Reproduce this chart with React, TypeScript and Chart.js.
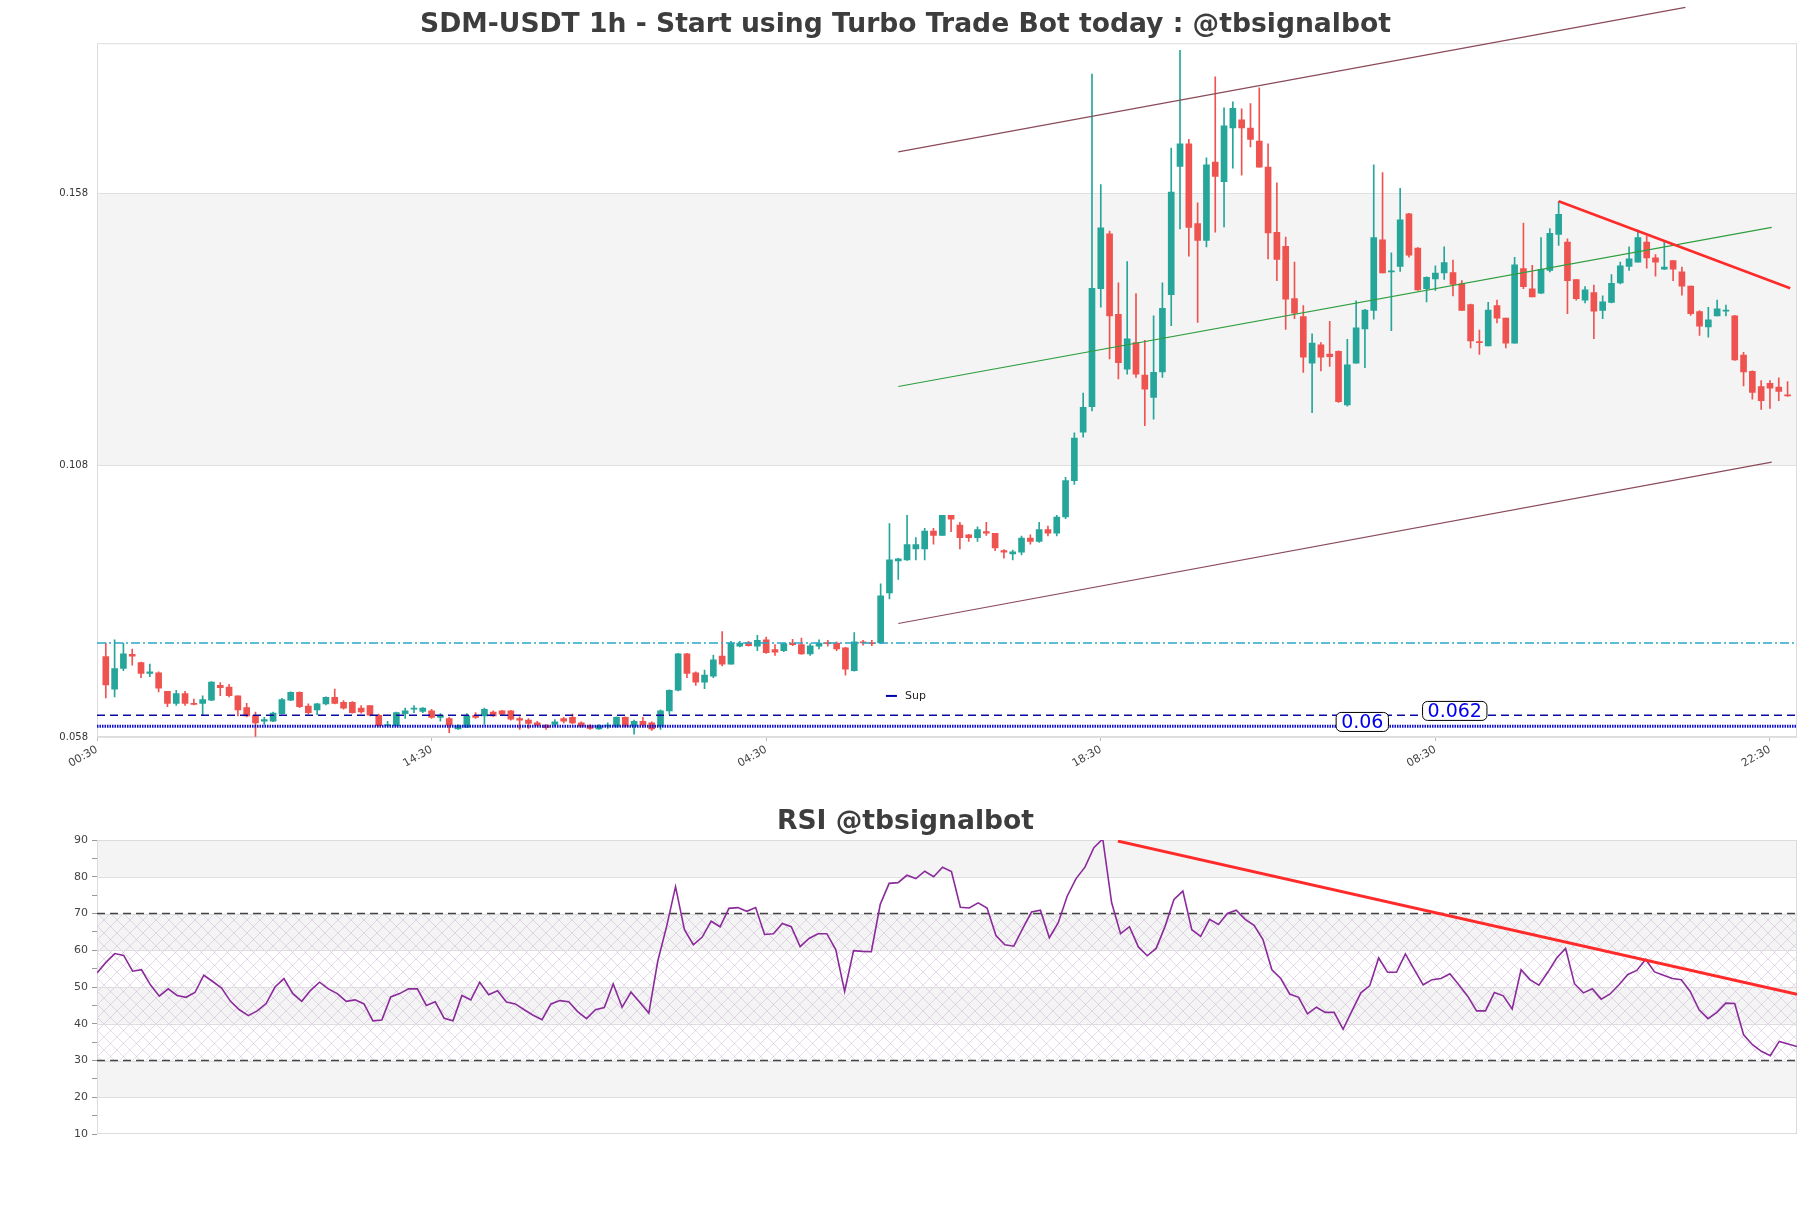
import React, { useEffect, useRef } from "react";
import { Chart, registerables } from "chart.js";
Chart.register(...registerables);

// ---------- data ----------
const timeLabels = ["00:30", "14:30", "04:30", "18:30", "08:30", "22:30"];
const timeTickIdx = [-1, 37, 75, 113, 151, 189];
const priceTicks = [0.058, 0.108, 0.158];

const opens = [
  0.0728, 0.0668, 0.0706, 0.0732, 0.0717, 0.0697, 0.0698, 0.0664, 0.0642, 0.0660,
  0.0641, 0.0642, 0.0648, 0.0675, 0.0672, 0.0656, 0.0634, 0.0620, 0.0609, 0.0609,
  0.0623, 0.0648, 0.0662, 0.0637, 0.0630, 0.0641, 0.0653, 0.0644, 0.0644, 0.0633,
  0.0638, 0.0620, 0.0601, 0.0601, 0.0623, 0.0631, 0.0627, 0.0628, 0.0616, 0.0614,
  0.0595, 0.0598, 0.0620, 0.0619, 0.0626, 0.0628, 0.0628, 0.0614, 0.0611, 0.0606,
  0.0602, 0.0603, 0.0614, 0.0616, 0.0606, 0.0601, 0.0595, 0.0600, 0.0600, 0.0616,
  0.0600, 0.0609, 0.0606, 0.0600, 0.0628, 0.0666, 0.0733, 0.0698, 0.0681, 0.0692,
  0.0729, 0.0714, 0.0747, 0.0754, 0.0747, 0.0759, 0.0741, 0.0739, 0.0753, 0.0750,
  0.0733, 0.0747, 0.0753, 0.0753, 0.0744, 0.0702, 0.0755, 0.0754, 0.0753, 0.0845,
  0.0904, 0.0906, 0.0926, 0.0926, 0.0959, 0.0951, 0.0988, 0.0970, 0.0952, 0.0947,
  0.0958, 0.0955, 0.0923, 0.0917, 0.0920, 0.0946, 0.0940, 0.0962, 0.0955, 0.0985,
  0.1052, 0.1141, 0.1188, 0.1405, 0.1506, 0.1358, 0.1257, 0.1306, 0.1246, 0.1205,
  0.1252, 0.1394, 0.1630, 0.1672, 0.1525, 0.1494, 0.1638, 0.1602, 0.1701, 0.1716,
  0.1701, 0.1677, 0.1629, 0.1509, 0.1483, 0.1387, 0.1354, 0.1268, 0.1302, 0.1285,
  0.1290, 0.1191, 0.1268, 0.1331, 0.1365, 0.1495, 0.1436, 0.1446, 0.1543, 0.1480,
  0.1405, 0.1423, 0.1434, 0.1435, 0.1414, 0.1376, 0.1308, 0.1300, 0.1374, 0.1351,
  0.1305, 0.1442, 0.1405, 0.1397, 0.1439, 0.1505, 0.1491, 0.1422, 0.1384, 0.1398,
  0.1365, 0.1380, 0.1416, 0.1446, 0.1454, 0.1491, 0.1462, 0.1441, 0.1457, 0.1436,
  0.1410, 0.1363, 0.1335, 0.1355, 0.1364, 0.1355, 0.1283, 0.1253, 0.1225, 0.1231,
  0.1224, 0.1210,
];
const highs = [
  0.0753, 0.0759, 0.0753, 0.0742, 0.0718, 0.0714, 0.0700, 0.0664, 0.0666, 0.0664,
  0.0650, 0.0656, 0.0682, 0.0680, 0.0677, 0.0656, 0.0642, 0.0626, 0.0616, 0.0626,
  0.0651, 0.0663, 0.0663, 0.0641, 0.0642, 0.0654, 0.0668, 0.0647, 0.0645, 0.0638,
  0.0638, 0.0622, 0.0609, 0.0626, 0.0633, 0.0638, 0.0634, 0.0631, 0.0623, 0.0616,
  0.0603, 0.0623, 0.0625, 0.0633, 0.0628, 0.0629, 0.0629, 0.0617, 0.0614, 0.0609,
  0.0603, 0.0612, 0.0616, 0.0622, 0.0608, 0.0603, 0.0603, 0.0606, 0.0617, 0.0617,
  0.0611, 0.0616, 0.0608, 0.0630, 0.0667, 0.0734, 0.0734, 0.0700, 0.0703, 0.0731,
  0.0774, 0.0756, 0.0756, 0.0756, 0.0767, 0.0764, 0.0750, 0.0753, 0.0760, 0.0762,
  0.0752, 0.0759, 0.0758, 0.0755, 0.0745, 0.0772, 0.0758, 0.0758, 0.0862, 0.0973,
  0.0909, 0.0988, 0.0947, 0.0964, 0.0964, 0.0988, 0.0988, 0.0975, 0.0953, 0.0967,
  0.0975, 0.0955, 0.0925, 0.0924, 0.0950, 0.0952, 0.0975, 0.0968, 0.0988, 0.1058,
  0.1140, 0.1213, 0.1800, 0.1597, 0.1511, 0.1416, 0.1455, 0.1396, 0.1310, 0.1355,
  0.1416, 0.1664, 0.1844, 0.1680, 0.1563, 0.1646, 0.1795, 0.1738, 0.1749, 0.1736,
  0.1746, 0.1775, 0.1672, 0.1600, 0.1500, 0.1454, 0.1374, 0.1322, 0.1306, 0.1345,
  0.1291, 0.1312, 0.1383, 0.1367, 0.1633, 0.1619, 0.1471, 0.1590, 0.1544, 0.1481,
  0.1427, 0.1447, 0.1482, 0.1458, 0.1420, 0.1377, 0.1329, 0.1380, 0.1384, 0.1351,
  0.1463, 0.1526, 0.1448, 0.1499, 0.1516, 0.1566, 0.1497, 0.1422, 0.1409, 0.1412,
  0.1392, 0.1431, 0.1454, 0.1482, 0.1513, 0.1502, 0.1468, 0.1491, 0.1457, 0.1445,
  0.1410, 0.1365, 0.1371, 0.1384, 0.1375, 0.1356, 0.1288, 0.1254, 0.1236, 0.1236,
  0.1241, 0.1234,
];
const lows = [
  0.0652, 0.0654, 0.0702, 0.0712, 0.0689, 0.0691, 0.0663, 0.0636, 0.0638, 0.0638,
  0.0639, 0.0620, 0.0647, 0.0656, 0.0654, 0.0619, 0.0617, 0.0581, 0.0603, 0.0608,
  0.0622, 0.0647, 0.0634, 0.0622, 0.0621, 0.0639, 0.0641, 0.0631, 0.0624, 0.0624,
  0.0619, 0.0600, 0.0600, 0.0600, 0.0614, 0.0625, 0.0625, 0.0614, 0.0609, 0.0588,
  0.0594, 0.0597, 0.0614, 0.0603, 0.0618, 0.0620, 0.0611, 0.0594, 0.0596, 0.0600,
  0.0594, 0.0600, 0.0606, 0.0604, 0.0598, 0.0594, 0.0594, 0.0596, 0.0598, 0.0598,
  0.0585, 0.0598, 0.0592, 0.0594, 0.0622, 0.0665, 0.0689, 0.0675, 0.0669, 0.0689,
  0.0711, 0.0714, 0.0746, 0.0747, 0.0739, 0.0734, 0.0730, 0.0737, 0.0748, 0.0732,
  0.0730, 0.0742, 0.0747, 0.0739, 0.0694, 0.0701, 0.0749, 0.0748, 0.0752, 0.0834,
  0.0870, 0.0905, 0.0906, 0.0906, 0.0935, 0.0951, 0.0958, 0.0926, 0.0940, 0.0940,
  0.0951, 0.0923, 0.0909, 0.0906, 0.0915, 0.0935, 0.0938, 0.0950, 0.0950, 0.0982,
  0.1045, 0.1132, 0.1180, 0.1371, 0.1276, 0.1239, 0.1248, 0.1242, 0.1153, 0.1165,
  0.1242, 0.1337, 0.1515, 0.1465, 0.1343, 0.1482, 0.1509, 0.1519, 0.1627, 0.1614,
  0.1666, 0.1629, 0.1460, 0.1420, 0.1330, 0.1350, 0.1251, 0.1177, 0.1254, 0.1262,
  0.1196, 0.1189, 0.1268, 0.1260, 0.1349, 0.1434, 0.1328, 0.1437, 0.1463, 0.1402,
  0.1381, 0.1402, 0.1422, 0.1392, 0.1365, 0.1296, 0.1284, 0.1300, 0.1342, 0.1296,
  0.1305, 0.1405, 0.1390, 0.1396, 0.1436, 0.1485, 0.1359, 0.1384, 0.1379, 0.1313,
  0.1350, 0.1379, 0.1414, 0.1439, 0.1454, 0.1443, 0.1428, 0.1440, 0.1420, 0.1393,
  0.1356, 0.1319, 0.1316, 0.1355, 0.1355, 0.1273, 0.1226, 0.1202, 0.1183, 0.1185,
  0.1199, 0.1207,
];
const closes = [
  0.0676, 0.0706, 0.0733, 0.0729, 0.0697, 0.0700, 0.0670, 0.0642, 0.0660, 0.0642,
  0.0640, 0.0649, 0.0681, 0.0671, 0.0656, 0.0630, 0.0619, 0.0606, 0.0612, 0.0624,
  0.0649, 0.0662, 0.0636, 0.0625, 0.0641, 0.0653, 0.0642, 0.0633, 0.0625, 0.0626,
  0.0620, 0.0601, 0.0603, 0.0625, 0.0628, 0.0633, 0.0633, 0.0616, 0.0620, 0.0602,
  0.0601, 0.0619, 0.0616, 0.0631, 0.0619, 0.0622, 0.0613, 0.0611, 0.0605, 0.0602,
  0.0597, 0.0608, 0.0609, 0.0606, 0.0600, 0.0596, 0.0601, 0.0602, 0.0616, 0.0600,
  0.0609, 0.0602, 0.0595, 0.0628, 0.0666, 0.0733, 0.0697, 0.0681, 0.0694, 0.0722,
  0.0714, 0.0753, 0.0753, 0.0748, 0.0758, 0.0735, 0.0736, 0.0752, 0.0750, 0.0733,
  0.0748, 0.0753, 0.0752, 0.0742, 0.0705, 0.0755, 0.0753, 0.0752, 0.0840, 0.0906,
  0.0908, 0.0934, 0.0934, 0.0959, 0.0951, 0.0988, 0.0981, 0.0947, 0.0947, 0.0962,
  0.0955, 0.0928, 0.0920, 0.0921, 0.0946, 0.0940, 0.0962, 0.0955, 0.0985, 0.1052,
  0.1130, 0.1187, 0.1406, 0.1517, 0.1355, 0.1269, 0.1313, 0.1248, 0.1220, 0.1251,
  0.1369, 0.1583, 0.1672, 0.1518, 0.1494, 0.1633, 0.1612, 0.1705, 0.1737, 0.1701,
  0.1680, 0.1629, 0.1508, 0.1459, 0.1386, 0.1360, 0.1279, 0.1305, 0.1279, 0.1280,
  0.1197, 0.1265, 0.1333, 0.1366, 0.1499, 0.1434, 0.1438, 0.1532, 0.1467, 0.1403,
  0.1426, 0.1434, 0.1453, 0.1413, 0.1365, 0.1309, 0.1306, 0.1366, 0.1351, 0.1305,
  0.1449, 0.1409, 0.1390, 0.1441, 0.1507, 0.1542, 0.1420, 0.1387, 0.1403, 0.1364,
  0.1381, 0.1415, 0.1447, 0.1460, 0.1499, 0.1462, 0.1454, 0.1445, 0.1441, 0.1410,
  0.1359, 0.1336, 0.1348, 0.1368, 0.1366, 0.1274, 0.1252, 0.1214, 0.1199, 0.1222,
  0.1216, 0.1208,
];

const rsiValues = [
  53.8, 56.7, 59.1, 58.6, 54.3, 54.7, 50.6, 47.5, 49.5, 47.7,
  47.2, 48.5, 53.2, 51.5, 49.7, 46.1, 43.8, 42.2, 43.5, 45.5,
  50.0, 52.3, 48.2, 46.1, 49.1, 51.3, 49.5, 48.2, 46.1, 46.5,
  45.4, 40.8, 41.0, 47.3, 48.2, 49.5, 49.5, 45.0, 46.0, 41.5,
  40.8, 47.7, 46.5, 51.3, 47.9, 49.0, 45.9, 45.4, 43.8, 42.3,
  41.1, 45.4, 46.3, 46.0, 43.3, 41.4, 43.8, 44.4, 50.8, 44.5,
  48.6, 45.8, 42.9, 57.0, 66.5, 77.3, 65.6, 61.5, 63.6, 67.9,
  66.4, 71.4, 71.6, 70.6, 71.6, 64.3, 64.5, 67.3, 66.4, 61.0,
  63.2, 64.5, 64.5, 60.2, 48.8, 59.9, 59.7, 59.6, 72.5, 78.2,
  78.4, 80.4, 79.5, 81.5, 80.0, 82.6, 81.4, 71.7, 71.5, 72.9,
  71.5, 64.0, 61.5, 61.1, 65.9, 70.4, 70.9, 63.4, 67.5, 74.7,
  79.5, 82.6, 87.9, 90.3, 72.9, 64.5, 66.4, 60.9, 58.5, 60.5,
  66.5, 73.8, 76.1, 65.6, 63.8, 68.4, 67.0, 70.0, 70.9, 68.4,
  66.8, 62.9, 54.7, 52.3, 48.1, 47.2, 42.7, 44.5, 43.1, 43.1,
  38.5, 43.5, 48.4, 50.4, 57.9, 54.0, 54.0, 59.0, 54.7, 50.6,
  52.0, 52.3, 53.6, 50.6, 47.5, 43.5, 43.5, 48.5, 47.6, 44.0,
  54.7, 52.0, 50.5, 54.0, 57.9, 60.5, 50.9, 48.4, 49.5, 46.7,
  48.1, 50.6, 53.4, 54.5, 57.5, 54.1, 53.2, 52.3, 52.0, 48.8,
  43.8, 41.4, 43.1, 45.6, 45.5, 37.0, 34.3, 32.5, 31.3, 35.2,
  34.5, 33.8,
];

// overlay lines as [index, value] endpoints
const resistanceLevel = 0.0753;
const supportDashed = 0.062;
const supportDotted = 0.06;
const upperChannel = [[90, 0.1657], [179.4, 0.1923]];
const lowerChannel = [[90, 0.0789], [189.2, 0.1086]];
const midChannel = [[90, 0.1225], [189.2, 0.1518]];
const priceTrend = [[165, 0.1566], [191.3, 0.1406]];
const rsiTrend = [[114.7, 89.7], [191, 48.0]];
const rsiLevels = [70, 30];
const priceTags = [
  { x: 142.7, y: 0.06077, text: "0.06" },
  { x: 153.2, y: 0.0628, text: "0.062" },
];
const priceTitle = "SDM-USDT 1h - Start using Turbo Trade Bot today : @tbsignalbot";
const rsiTitle = "RSI @tbsignalbot";

// ---------- style ----------
const GREEN = "#26a69a";
const RED = "#ef5350";
const FONT = "DejaVu Sans";
const W = 1811;

Chart.defaults.font.family = FONT;
Chart.defaults.color = "#444";

const toXY = (pts: number[][]) => pts.map(([x, y]) => ({ x, y }));

// title centred on the whole figure width
const makeTitlePlugin = (text: string, cy: number) => ({
  id: "figTitle",
  afterDraw(chart: any) {
    const { ctx } = chart;
    ctx.save();
    ctx.font = `bold 26.6px "${FONT}"`;
    ctx.fillStyle = "#3d3d3d";
    ctx.textAlign = "center";
    ctx.textBaseline = "middle";
    ctx.fillText(text, chart.width / 2, cy);
    ctx.restore();
  },
});

function PriceChart() {
  const ref = useRef<HTMLCanvasElement>(null);
  useEffect(() => {
    const colors = closes.map((c, i) => (c >= opens[i] ? GREEN : RED));
    const xMin = -1, xMax = 192.07;
    const bgPlugin = {
      id: "priceBg",
      beforeDraw(chart: any) {
        const { ctx, chartArea: a, scales } = chart;
        const y = scales.y;
        ctx.save();
        ctx.fillStyle = "#f4f4f4";
        const y1 = y.getPixelForValue(priceTicks[2]);
        const y2 = y.getPixelForValue(priceTicks[1]);
        ctx.fillRect(a.left, y1, a.right - a.left, y2 - y1);
        ctx.restore();
      },
      beforeDatasetsDraw(chart: any) {
        const { ctx, chartArea: a } = chart;
        ctx.save();
        ctx.strokeStyle = "#dcdcdc";
        ctx.lineWidth = 1;
        ctx.strokeRect(a.left + 0.5, a.top + 0.5, a.right - a.left - 1, a.bottom - a.top - 1);
        ctx.restore();
      },
      afterDatasetsDraw(chart: any) {
        const { ctx, scales } = chart;
        const xs = scales.x, ys = scales.y;
        ctx.save();
        // legend entry "Sup"
        const ly = ys.getPixelForValue(0.06556);
        const lx = xs.getPixelForValue(88.6);
        ctx.strokeStyle = "#0000aa";
        ctx.lineWidth = 2;
        ctx.beginPath();
        ctx.moveTo(lx, ly);
        ctx.lineTo(lx + 11, ly);
        ctx.stroke();
        ctx.fillStyle = "#222";
        ctx.font = `11px "${FONT}"`;
        ctx.textBaseline = "middle";
        ctx.textAlign = "left";
        ctx.fillText("Sup", lx + 19, ly);
        // price tags
        ctx.font = `19px "${FONT}"`;
        for (const t of priceTags) {
          const cx = xs.getPixelForValue(t.x);
          const cy = ys.getPixelForValue(t.y);
          const w = ctx.measureText(t.text).width + 10;
          const h = 19;
          const x0 = cx - w / 2, y0 = cy - h / 2;
          ctx.beginPath();
          (ctx as any).roundRect(x0, y0, w, h, 5);
          ctx.fillStyle = "#ffffff";
          ctx.fill();
          ctx.strokeStyle = "#000";
          ctx.lineWidth = 1;
          ctx.stroke();
          ctx.fillStyle = "#0000ee";
          ctx.textAlign = "center";
          ctx.textBaseline = "middle";
          ctx.fillText(t.text, cx, cy + 1);
        }
        ctx.restore();
      },
    };
    const lineDs = (pts: number[][], color: string, width: number, dash: number[] = [], order = 2, clip: any = undefined) => ({
      type: "line" as const,
      data: toXY(pts),
      borderColor: color,
      borderWidth: width,
      borderDash: dash,
      pointRadius: 0,
      fill: false,
      tension: 0,
      order,
      ...(clip !== undefined ? { clip } : {}),
    });
    const chart = new Chart(ref.current!, {
      type: "bar",
      data: {
        datasets: [
          {
            type: "bar",
            data: lows.map((l, i) => ({ x: i, y: [l, highs[i]] })) as any,
            backgroundColor: colors,
            barThickness: 1,
            maxBarThickness: 1,
            grouped: false,
            order: 20,
          } as any,
          {
            type: "bar",
            data: opens.map((o, i) => ({ x: i, y: [o, closes[i]] })) as any,
            backgroundColor: colors,
            barThickness: 6,
            maxBarThickness: 6,
            minBarLength: 1,
            grouped: false,
            order: 19,
          } as any,
          lineDs([[xMin, resistanceLevel], [xMax, resistanceLevel]], "#2aa6c8", 1.3, [9, 3, 2, 3], 5),
          lineDs([[xMin, supportDashed], [xMax, supportDashed]], "#0a0a9e", 1.5, [8, 5], 4),
          lineDs([[xMin, supportDotted], [xMax, supportDotted]], "#1010cc", 3, [1.5, 1], 4),
          lineDs(upperChannel, "#8a4a5a", 1.1, [], 3, false),
          lineDs(lowerChannel, "#8a4a5a", 1.1, [], 3),
          lineDs(midChannel, "#2e9e3e", 1.1, [], 3),
          lineDs(priceTrend, "#ff2a2a", 2.6, [], 1),
        ] as any,
      },
      options: {
        responsive: false,
        animation: false,
        events: [],
        layout: { padding: { left: 0, right: 14, top: 43.2, bottom: 0 } },
        plugins: {
          legend: { display: false },
          tooltip: { enabled: false },
          title: { display: false },
        },
        scales: {
          x: {
            type: "linear",
            min: xMin,
            max: xMax,
            offset: false,
            afterBuildTicks: (s: any) => {
              s.ticks = timeTickIdx.map((v) => ({ value: v }));
            },
            afterFit: (s: any) => {
              s.height = 63;
            },
            ticks: {
              autoSkip: false,
              maxRotation: 30,
              minRotation: 30,
              padding: 2,
              font: { size: 11 },
              color: "#444",
              callback: (_v: any, i: number) => timeLabels[i],
            },
            grid: { drawOnChartArea: false, drawTicks: true, tickLength: 4, color: "#bbb", offset: false },
            border: { display: false },
          },
          y: {
            type: "linear",
            min: priceTicks[0],
            max: 0.1857,
            beginAtZero: false,
            afterBuildTicks: (s: any) => {
              s.ticks = priceTicks.map((v) => ({ value: v }));
            },
            afterFit: (s: any) => {
              s.width = 97;
            },
            ticks: {
              padding: 9,
              font: { size: 10 },
              color: "#333",
              callback: (v: any) => Number(v).toFixed(3),
            },
            grid: { color: "#e0e0e0", drawTicks: false },
            border: { display: false },
          },
        },
      } as any,
      plugins: [bgPlugin, makeTitlePlugin(priceTitle, 25)],
    });
    return () => chart.destroy();
  }, []);
  return <canvas ref={ref} width={W} height={800} style={{ display: "block" }} />;
}

function RsiChart() {
  const ref = useRef<HTMLCanvasElement>(null);
  useEffect(() => {
    const grayBands = [[80, 90], [60, 70], [40, 50], [20, 30]];
    const hatchBand = [30, 70];
    const bandLines = [20, 30, 40, 50, 60, 70, 80];
    const tile = document.createElement("canvas");
    tile.width = 13;
    tile.height = 13;
    const tg = tile.getContext("2d")!;
    tg.strokeStyle = "rgba(185,155,200,0.45)";
    tg.lineWidth = 0.8;
    tg.beginPath();
    tg.moveTo(0, 0);
    tg.lineTo(13, 13);
    tg.moveTo(13, 0);
    tg.lineTo(0, 13);
    tg.stroke();
    const bgPlugin = {
      id: "rsiBg",
      beforeDraw(chart: any) {
        const { ctx, chartArea: a, scales } = chart;
        const y = scales.y;
        ctx.save();
        ctx.fillStyle = "#f4f4f4";
        for (const [lo, hi] of grayBands) {
          const y1 = y.getPixelForValue(hi), y2 = y.getPixelForValue(lo);
          ctx.fillRect(a.left, y1, a.right - a.left, y2 - y1);
        }
        const pat = ctx.createPattern(tile, "repeat");
        if (pat) {
          ctx.fillStyle = pat;
          const y1 = y.getPixelForValue(hatchBand[1]), y2 = y.getPixelForValue(hatchBand[0]);
          ctx.fillRect(a.left, y1, a.right - a.left, y2 - y1);
        }
        ctx.strokeStyle = "#dedede";
        ctx.lineWidth = 1;
        for (const v of bandLines) {
          const py = Math.round(y.getPixelForValue(v)) + 0.5;
          ctx.beginPath();
          ctx.moveTo(a.left, py);
          ctx.lineTo(a.right, py);
          ctx.stroke();
        }
        ctx.strokeStyle = "#dcdcdc";
        ctx.strokeRect(a.left + 0.5, a.top + 0.5, a.right - a.left - 1, a.bottom - a.top - 1);
        ctx.restore();
      },
    };
    const n = rsiValues.length;
    const chart = new Chart(ref.current!, {
      type: "line",
      data: {
        datasets: [
          ...rsiLevels.map((lv) => ({
            data: [{ x: 0, y: lv }, { x: n - 1, y: lv }],
            borderColor: "#444",
            borderWidth: 1.3,
            borderDash: [8, 5],
            pointRadius: 0,
            order: 3,
          })),
          {
            data: rsiValues.map((v, i) => ({ x: i, y: v })),
            borderColor: "#8b2a9b",
            borderWidth: 1.6,
            pointRadius: 0,
            tension: 0,
            order: 2,
          },
          {
            data: toXY(rsiTrend),
            borderColor: "#ff2a2a",
            borderWidth: 3,
            pointRadius: 0,
            order: 1,
          },
        ] as any,
      },
      options: {
        responsive: false,
        animation: false,
        events: [],
        layout: { padding: { left: 0, right: 14, top: 50, bottom: 74 } },
        plugins: {
          legend: { display: false },
          tooltip: { enabled: false },
          title: { display: false },
        },
        scales: {
          x: { type: "linear", min: 0, max: n - 1, display: false },
          y: {
            type: "linear",
            min: 10,
            max: 90,
            afterFit: (s: any) => {
              s.width = 97;
            },
            ticks: {
              stepSize: 5,
              padding: 4,
              font: { size: 11 },
              color: "#444",
              callback: (v: any) => (Number(v) % 10 === 0 ? String(v) : ""),
            },
            grid: { drawOnChartArea: false, drawTicks: true, tickLength: 5, color: "#999" },
            border: { display: false },
          },
        },
      } as any,
      plugins: [bgPlugin, makeTitlePlugin(rsiTitle, 32.5)],
    });
    return () => chart.destroy();
  }, []);
  return <canvas ref={ref} width={W} height={418} style={{ display: "block" }} />;
}

export default function App() {
  return (
    <div style={{ position: "absolute", left: 0, top: 0, width: W, height: 1208, background: "#fff" }}>
      <div style={{ position: "absolute", left: 0, top: 0 }}>
        <PriceChart />
      </div>
      <div style={{ position: "absolute", left: 0, top: 790 }}>
        <RsiChart />
      </div>
    </div>
  );
}
